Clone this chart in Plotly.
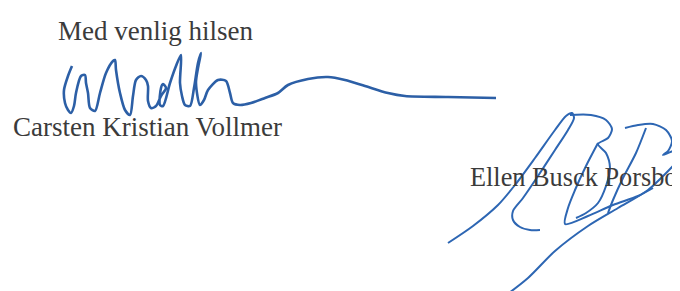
import plotly.graph_objects as go

# Text lines (label, left x, baseline y, font size)
text_labels = ["Med venlig hilsen", "Carsten Kristian Vollmer", "Ellen Busck Porsbo"]
text_x = [49, 4, 461]
text_baseline = [32, 128, 178]
text_size = [27, 27, 26.3]

# Signature 1 (Carsten Kristian Vollmer) - one continuous stroke
sig1_x = [64, 60, 56, 57, 60, 63, 66, 68, 73, 77, 78, 80, 82, 87, 92, 98, 105, 107, 108, 112,
          117, 122, 125, 128, 133, 138, 140, 140, 143, 148, 153, 158, 155, 153, 152, 155,
          162, 168, 173, 172, 174, 177, 182, 186, 190, 193, 190, 188, 192, 196, 200, 210,
          218, 222, 225, 232, 243, 257, 270, 280, 300, 320, 337, 357, 380, 397, 440, 488]
sig1_y = [58, 68, 82, 95, 102, 105, 98, 85, 68, 67, 75, 85, 100, 103, 85, 65, 53, 52, 62, 85,
          102, 107, 88, 72, 68, 72, 78, 93, 100, 98, 88, 80, 76, 80, 97, 98,
          75, 58, 47, 75, 88, 97, 98, 80, 55, 45, 60, 75, 97, 92, 82, 72,
          73, 85, 95, 97, 95, 90, 85, 77, 71, 69, 72, 78, 85, 88, 89, 90]

# Signature 2 (Ellen Busck Porsbo) - several strokes
sigA_x = [440, 465, 490, 507, 527, 547, 558, 564, 566, 560, 547, 530, 515, 505, 505, 512, 522, 532]
sigA_y = [235, 218, 197, 177, 150, 122, 108, 105, 110, 122, 142, 168, 190, 203, 212, 219, 222, 222]
sigB_x = [562, 583, 598, 604, 600, 590, 598, 602, 598, 590, 578, 568]
sigB_y = [107, 107, 112, 121, 130, 136, 145, 160, 178, 195, 205, 210]
sigC_x = [590, 578, 567, 560, 557, 580, 605, 630, 645]
sigC_y = [135, 158, 182, 200, 216, 208, 197, 188, 180]
sigD_x = [638, 628, 615, 605, 600]
sigD_y = [120, 145, 170, 192, 205]
sigE_x = [617, 630, 645, 658, 664, 660, 655, 665, 678]
sigE_y = [120, 117, 116, 122, 133, 143, 147, 143, 141]
sigF_x = [493, 520, 547, 580, 610, 640, 665]
sigF_y = [291, 270, 243, 218, 200, 182, 158]

fig = go.Figure()

fig.add_trace(go.Scatter(x=sig1_x, y=sig1_y, mode="lines",
                         line=dict(color="#2c5fa6", width=2.6, shape="spline", smoothing=0.8),
                         hoverinfo="skip"))

for sx, sy in [(sigA_x, sigA_y), (sigB_x, sigB_y), (sigC_x, sigC_y),
               (sigD_x, sigD_y), (sigE_x, sigE_y), (sigF_x, sigF_y)]:
    fig.add_trace(go.Scatter(x=sx, y=sy, mode="lines",
                             line=dict(color="#2d66b3", width=2.0, shape="spline", smoothing=0.8),
                             hoverinfo="skip"))

for label, x0, yb, fs in zip(text_labels, text_x, text_baseline, text_size):
    fig.add_annotation(x=x0, y=yb - 0.33 * fs, text=label, showarrow=False,
                       xanchor="left", yanchor="middle", xref="x", yref="y", borderpad=0,
                       font=dict(family="Liberation Serif", size=fs, color="#3b3b3b"))

fig.update_layout(
    width=680, height=291,
    margin=dict(l=0, r=0, t=0, b=0),
    paper_bgcolor="white", plot_bgcolor="white",
    showlegend=False,
    xaxis=dict(range=[0, 680], visible=False, fixedrange=True),
    yaxis=dict(range=[291, 0], visible=False, fixedrange=True),
)

fig.write_html("out.html", config={"displayModeBar": False})
